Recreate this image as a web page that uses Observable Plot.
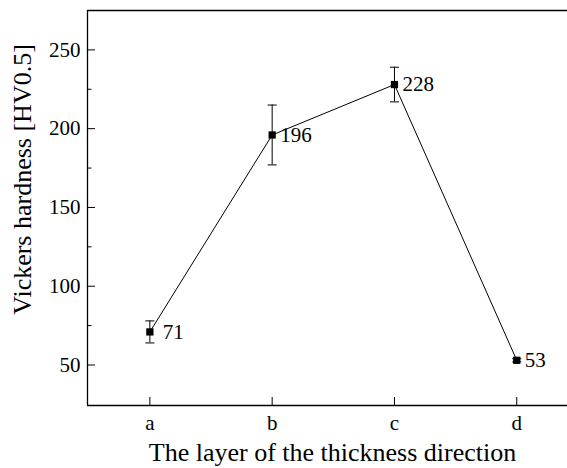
<!DOCTYPE html>
<html><head><meta charset="utf-8">
<script src="https://cdn.jsdelivr.net/npm/d3@7"></script>
<script src="https://cdn.jsdelivr.net/npm/@observablehq/plot@0.6"></script>
<style>body{margin:0;background:#fff}</style>
</head><body><div id="chart"></div>
<script>
const layers = ["a", "b", "c", "d"];
const hardness = [71, 196, 228, 53];
const errors = [7, 19, 11, 1];
const yMajorTicks = [50, 100, 150, 200, 250];
const yMinorTicks = [75, 125, 175, 225];
const xTicks = [0, 1, 2, 3];
const xTitle = "The layer of the thickness direction";
const yTitle = "Vickers hardness [HV0.5]";

const xDomain = [-0.51, 3.415];
const yDomain = [24.3, 275];

const data = layers.map((l, i) => ({i, layer: l, v: hardness[i], e: errors[i]}));
const cap = {draw(ctx) { ctx.moveTo(-4.5, 0); ctx.lineTo(4.5, 0); }};

const chart = Plot.plot({
  width: 567, height: 468,
  marginLeft: 87, marginRight: 0, marginTop: 10, marginBottom: 63,
  style: {fontFamily: "'Liberation Serif', 'Times New Roman', serif", fontSize: "21px", background: "#fff", color: "#000", overflow: "visible"},
  x: {type: "linear", domain: xDomain},
  y: {domain: yDomain},
  marks: [
    Plot.ruleY([yDomain[1]], {stroke: "#000", strokeWidth: 1.3}),
    Plot.ruleY([yDomain[0]], {stroke: "#000", strokeWidth: 1.3}),
    Plot.ruleX([xDomain[0]], {stroke: "#000", strokeWidth: 1.3}),
    Plot.axisY({ticks: yMajorTicks, tickSize: -8, fill: "none", label: null}),
    Plot.axisY({ticks: yMinorTicks, tickSize: -4.5, fill: "none", label: null}),
    Plot.axisY({ticks: yMajorTicks, tickSize: 0, tickPadding: 7, label: null, fontFamily: "'Liberation Serif', serif"}),
    Plot.axisX({ticks: xTicks, tickSize: -8, fill: "none", label: null, tickFormat: i => layers[i]}),
    Plot.axisX({ticks: xTicks, tickSize: 0, tickPadding: 10, label: null, tickFormat: i => layers[i], fontFamily: "'Liberation Serif', serif"}),
    Plot.line(data, {x: "i", y: "v", stroke: "#000", strokeWidth: 1}),
    Plot.ruleX(data, {x: "i", y1: d => d.v - d.e, y2: d => d.v + d.e, stroke: "#000", strokeWidth: 1}),
    Plot.dot(data, {x: "i", y: d => d.v + d.e, symbol: cap, stroke: "#000", fill: "none", strokeWidth: 1}),
    Plot.dot(data, {x: "i", y: d => d.v - d.e, symbol: cap, stroke: "#000", fill: "none", strokeWidth: 1}),
    Plot.dot(data, {x: "i", y: "v", symbol: "square", r: 4.1, fill: "#000", stroke: "none"}),
    Plot.text(data.filter(d => d.i === 0), {x: "i", y: "v", text: d => String(d.v), textAnchor: "start", lineAnchor: "middle", dx: 13, fontFamily: "'Liberation Serif', serif"}),
    Plot.text(data.filter(d => d.i !== 0), {x: "i", y: "v", text: d => String(d.v), textAnchor: "start", lineAnchor: "middle", dx: 8, fontFamily: "'Liberation Serif', serif"}),
    Plot.text([xTitle], {frameAnchor: "bottom", textAnchor: "middle", dx: 5, dy: 55, lineAnchor: "bottom", fontSize: 26, fontFamily: "'Liberation Serif', serif"}),
    Plot.text([yTitle], {frameAnchor: "left", textAnchor: "middle", rotate: -90, dx: -65.3, dy: -28.5, lineAnchor: "middle", fontSize: 26, fontFamily: "'Liberation Serif', serif"})
  ]
});
document.getElementById("chart").appendChild(chart);
</script>
</body></html>
